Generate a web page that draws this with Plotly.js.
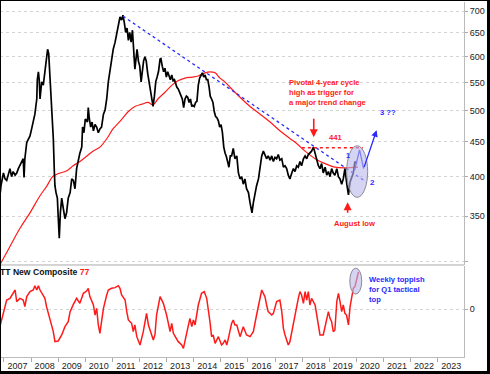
<!DOCTYPE html>
<html>
<head>
<meta charset="utf-8">
<script src="https://cdn.plot.ly/plotly-3.0.1.min.js"></script>
<style>
html,body{margin:0;padding:0;background:#fff;}
#wrap{position:relative;width:490px;height:374px;overflow:hidden;}
#chart{position:absolute;left:0;top:0;width:490px;height:374px;}
#frame{position:absolute;left:0;top:0;width:490px;height:374px;box-sizing:border-box;border-top:1px solid #000;border-left:1px solid #000;border-right:3px solid #000;border-bottom:3px solid #000;pointer-events:none;}
</style>
</head>
<body>
<div id="wrap"><div id="chart"></div><div id="frame"></div></div>
<script>
// ---- weekly price ----
const priceYears = [2006.86,2006.89,2006.98,
2007.04,2007.10,2007.16,2007.22,2007.28,2007.34,2007.41,2007.47,2007.53,2007.59,2007.65,2007.71,2007.74,2007.77,2007.84,2007.90,2007.96,
2008.02,2008.08,2008.14,2008.21,2008.23,2008.27,2008.30,2008.33,2008.39,2008.45,2008.51,2008.57,2008.61,2008.65,2008.70,2008.73,2008.78,2008.82,2008.86,2008.88,2008.92,2008.97,
2009.00,2009.04,2009.08,2009.13,2009.19,2009.25,2009.31,2009.37,2009.44,2009.50,2009.56,2009.62,2009.68,2009.74,2009.80,2009.87,2009.90,2009.95,
2010.00,2010.08,2010.11,2010.15,2010.20,2010.25,2010.30,2010.36,2010.42,2010.48,2010.54,2010.60,2010.67,2010.73,2010.79,2010.85,2010.91,2010.97,
2011.03,2011.10,2011.16,2011.22,2011.28,2011.34,2011.39,2011.44,2011.49,2011.54,2011.59,2011.64,2011.69,2011.74,2011.79,2011.83,2011.87,2011.91,2011.96,
2012.01,2012.06,2012.10,2012.15,2012.20,2012.25,2012.30,2012.35,2012.40,2012.45,2012.50,2012.55,2012.60,2012.65,2012.70,2012.76,2012.79,2012.84,2012.89,2012.94,2012.99,
2013.04,2013.09,2013.14,2013.19,2013.24,2013.29,2013.33,2013.38,2013.43,2013.48,2013.53,2013.58,2013.63,2013.68,2013.73,2013.78,2013.83,2013.88,2013.93,2013.97,
2014.02,2014.07,2014.12,2014.17,2014.22,2014.27,2014.32,2014.37,2014.42,2014.47,2014.52,2014.57,2014.61,2014.66,2014.71,2014.76,2014.81,2014.86,2014.91,2014.96,
2015.01,2015.06,2015.11,2015.16,2015.20,2015.25,2015.30,2015.35,2015.40,2015.46,2015.52,2015.59,2015.65,2015.71,2015.77,2015.83,2015.89,2015.95,
2016.02,2016.08,2016.11,2016.15,2016.20,2016.26,2016.32,2016.39,2016.45,2016.51,2016.57,2016.63,2016.69,2016.75,2016.82,2016.88,2016.94,
2017.00,2017.06,2017.12,2017.18,2017.25,2017.31,2017.37,2017.43,2017.49,2017.55,2017.62,2017.68,2017.74,2017.80,2017.86,2017.92,2017.98,
2018.05,2018.11,2018.17,2018.23,2018.29,2018.35,2018.42,2018.48,2018.54,2018.60,2018.66,2018.72,2018.78,2018.85,2018.91,2018.97,
2019.03,2019.09,2019.15,2019.21,2019.28,2019.34,2019.40,2019.46,2019.52,2019.58,2019.65,2019.71,2019.77,2019.83,2019.89,2019.95,
2020.02];
const priceValues = [378,388,405,
397,395,402,411,400,407,402,405,411,415,421,425,399,425,449,455,459,
470,481,494,520,555,570,555,520,551,545,568,596,615,606,560,520,481,455,405,388,379,372,
350,325,354,372,359,347,354,372,379,397,395,384,411,425,433,442,473,464,
486,481,505,486,473,481,467,477,473,464,470,473,494,501,520,551,573,596,
615,630,651,669,686,679,690,673,651,661,634,651,630,656,620,575,595,615,591,
581,551,575,591,600,591,568,551,532,514,507,525,551,560,570,595,596,581,570,577,560,
570,564,555,564,553,555,546,541,538,532,529,520,505,520,525,523,514,520,507,509,
507,514,516,545,558,564,568,560,564,555,555,541,525,520,514,498,490,488,483,473,
477,464,442,433,429,421,413,429,429,440,425,429,405,397,400,390,397,384,
379,366,362,354,366,379,388,397,411,429,436,429,425,429,423,429,421,
427,425,431,423,425,413,415,411,402,397,405,411,407,415,413,421,415,
425,429,425,431,433,436,442,433,421,415,411,418,405,413,402,407,
400,411,405,402,411,400,397,390,397,411,390,376,393,400,405,421,
418];

// ---- long moving average ----
const maYears = [2006.85,2007.22,2007.59,2007.96,2008.33,2008.59,2008.77,2008.88,2009.07,2009.32,2009.55,2009.80,2010.06,2010.28,2010.54,2010.80,2011.02,2011.28,2011.58,2011.83,2012.09,2012.31,2012.50,2012.68,2012.94,2013.20,2013.42,2013.68,2013.94,2014.16,2014.42,2014.60,2014.79,2014.97,2015.15,2015.34,2015.71,2016.08,2016.45,2016.82,2017.18,2017.55,2017.81,2018.11,2018.48,2018.85,2019.21,2019.58,2020.06];
const maValues = [297,316,336,354,375,388,399,402,405,408,415,421,429,436,442,455,470,482,498,507,511,514,510,520,532,545,553,558,560,562,568,570,568,558,551,541,523,507,494,481,467,455,447,436,425,418,413,412,413];

// ---- TT New Composite indicator ----
const indYears = [2006.85,2006.98,2007.10,2007.22,2007.34,2007.41,2007.47,2007.59,2007.71,2007.77,2007.84,2007.96,2008.08,2008.14,2008.21,2008.27,2008.33,2008.45,2008.51,2008.57,2008.70,2008.82,2008.88,2009.00,2009.13,2009.25,2009.37,2009.44,2009.56,2009.68,2009.80,2009.93,2010.05,2010.11,2010.17,2010.30,2010.36,2010.42,2010.48,2010.54,2010.60,2010.67,2010.79,2010.85,2010.97,2011.10,2011.22,2011.28,2011.34,2011.47,2011.53,2011.59,2011.65,2011.71,2011.77,2011.83,2011.90,2012.02,2012.14,2012.26,2012.33,2012.45,2012.51,2012.57,2012.63,2012.76,2012.88,2013.00,2013.13,2013.19,2013.25,
2013.43,2013.56,2013.62,2013.68,2013.80,2013.86,2013.93,2013.99,2014.05,2014.17,2014.29,2014.39,2014.48,2014.54,2014.60,2014.66,2014.72,2014.79,2014.91,2015.03,2015.09,2015.16,2015.22,2015.28,2015.40,2015.46,2015.52,2015.59,2015.71,2015.83,2015.95,2016.08,2016.20,2016.32,2016.45,2016.51,2016.57,2016.63,2016.69,2016.75,2016.88,2016.94,2017.06,2017.18,2017.25,2017.31,2017.37,2017.49,2017.55,2017.62,2017.68,2017.80,2017.86,2017.92,2017.98,2018.05,2018.11,2018.17,2018.23,2018.29,2018.35,2018.48,2018.60,2018.66,2018.78,2018.84,2018.91,2018.97,2019.03,2019.09,2019.15,2019.21,2019.28,2019.34,2019.40,2019.46,2019.52,2019.58,2019.64,2019.71,2019.77,2019.83,2019.89,2019.95,2020.01,2020.08];
const indValues = [-36.7,-5.5,18.7,22.2,32.6,39.5,15.3,22.2,18.7,4.9,25.7,36.1,39.5,48.5,39.5,48.5,39.5,25.7,22.2,4.9,-19.4,-47.1,-67.9,-66.5,-54.0,-36.7,-26.3,-5.5,9.7,22.2,11.8,32.6,37.4,43.0,25.7,8.3,-12.5,1.4,-33.2,-50.6,-26.3,1.4,29.1,39.5,43.0,44.4,48.5,43.0,29.1,18.7,-5.5,-22.8,-26.3,-29.8,-47.1,-33.2,-57.5,-74.8,-47.1,-9.0,-33.2,-57.5,-64.4,-54.0,-12.5,25.7,11.8,-12.5,-47.1,-29.8,-50.6,
-67.9,-74.8,-81.8,-64.4,-36.7,-19.4,-36.7,-22.8,-33.2,8.3,32.6,36.1,22.2,1.4,-26.3,-57.5,-54.0,-71.4,-57.5,-74.8,-71.4,-64.4,-74.8,-61.0,-29.8,-22.8,-33.2,-33.2,-57.5,-36.7,-54.0,-57.5,-47.1,-12.5,22.2,39.5,32.6,25.7,8.3,-5.5,-12.5,-9.0,15.3,18.7,-5.5,-40.2,-54.0,-74.8,-67.9,-47.1,-26.3,4.9,22.2,36.1,29.1,11.8,36.1,18.7,36.1,8.3,22.2,8.3,-40.2,-54.0,-54.0,-40.2,-19.4,-5.5,-19.4,-26.3,-47.1,-43.6,15.3,32.6,15.3,-5.5,8.3,-9.0,-12.5,-33.2,4.9,25.7,43.0,46.5,63.8,77];

// ---- drawn studies ----
const trendYears = [2011.39, 2020.36];
const trendValues = [688, 393];
const levelYears = [2017.99, 2020.24];
const levelValues = [441, 441];
const waveYears = [2019.94, 2020.12, 2020.27, 2020.75];
const waveValues = [409, 438, 411, 468];

// ---- axis labels ----
const yearLabels = ['2007','2008','2009','2010','2011','2012','2013','2014','2015','2016','2017','2018','2019','2020','2021','2022','2023'];
const yearTickPos = yearLabels.map(s => Number(s) + 0.5);
const yearBounds = yearLabels.map(s => Number(s)).concat([2024]);
const priceTicks = [300,350,400,450,500,550,600,650,700];
const priceTickText = ['','350','400','450','500','550','600','650','700'];

const L = Math.log10;
const RED = '#ff1a1a', BLUE = '#2a2aff';
const NOTE = '"Liberation Sans Narrow","Arial Narrow","Liberation Sans",Arial,sans-serif';

const traces = [
  {x: maYears, y: maValues, type:'scatter', mode:'lines', line:{color:RED, width:1.2, shape:'spline'}, xaxis:'x', yaxis:'y', hoverinfo:'skip'},
  {x: priceYears, y: priceValues, type:'scatter', mode:'lines', line:{color:'#000', width:1.7}, xaxis:'x', yaxis:'y', hoverinfo:'skip'},
  {x: trendYears, y: trendValues, type:'scatter', mode:'lines', line:{color:BLUE, width:1.3, dash:'dot'}, xaxis:'x', yaxis:'y', hoverinfo:'skip'},
  {x: levelYears, y: levelValues, type:'scatter', mode:'lines', line:{color:RED, width:1.3, dash:'dot'}, xaxis:'x', yaxis:'y', hoverinfo:'skip'},
  {x: waveYears.slice(0,3), y: waveValues.slice(0,3), type:'scatter', mode:'lines', line:{color:BLUE, width:1.3}, xaxis:'x', yaxis:'y', hoverinfo:'skip'},
  {x: indYears, y: indValues, type:'scatter', mode:'lines', line:{color:RED, width:1.5}, xaxis:'x', yaxis:'y2', hoverinfo:'skip'}
];

const layout = {
  width: 490, height: 374,
  margin: {l:0, r:26, t:2, b:17},
  paper_bgcolor:'#fff', plot_bgcolor:'#fff',
  showlegend:false,
  font:{family:'"Liberation Sans",Arial,sans-serif', size:9, color:'#222'},
  xaxis: {
    anchor:'y2', range:[2006.853, 2023.974], showgrid:false, zeroline:false,
    showline:true, linecolor:'#bbb', linewidth:1,
    tickmode:'array', tickvals: yearTickPos, ticktext: yearLabels, ticks:'',
    tickfont:{size:9, color:'#222'},
    minor:{tickmode:'array', tickvals: yearBounds, ticks:'outside', ticklen:4, tickcolor:'#aaa', tickwidth:1, showgrid:false}
  },
  yaxis: {
    domain:[0.2592, 1], type:'log', range:[L(296.8), L(721.6)], side:'right', anchor:'x',
    showline:true, linecolor:'#bbb', linewidth:1, ticks:'outside', ticklen:3, tickcolor:'#aaa',
    tickmode:'array', tickvals: priceTicks, ticktext: priceTickText,
    showgrid:true, gridcolor:'#d4d4d4', griddash:'dot', gridwidth:1, zeroline:false,
    tickfont:{size:9, color:'#222'}
  },
  yaxis2: {
    domain:[0, 0.2563], range:[-99.8, 89.4], side:'right', anchor:'x',
    showline:true, linecolor:'#bbb', linewidth:1, ticks:'outside', ticklen:3, tickcolor:'#aaa',
    tickmode:'array', tickvals:[0], ticktext:['0'],
    showgrid:true, gridcolor:'#d4d4d4', griddash:'dot', gridwidth:1, zeroline:false,
    tickfont:{size:9, color:'#222'}
  },
  shapes: [
    {type:'line', xref:'paper', yref:'paper', x0:0, x1:1, y0:0.2592, y1:0.2592, line:{color:'#aaa', width:1}},
    {type:'circle', xref:'x', yref:'y', x0:2019.645, x1:2020.42, y0:373, y1:444, fillcolor:'rgba(185,185,235,0.6)', line:{color:'#8a8a9a', width:1}, layer:'above'},
    {type:'circle', xref:'x', yref:'y2', x0:2019.76, x1:2020.20, y0:31, y1:85, fillcolor:'rgba(185,185,235,0.6)', line:{color:'#8a8a9a', width:1}, layer:'above'}
  ],
  annotations: [
    {xref:'x', yref:'y', x:2017.43, y:L(532), xanchor:'left', yanchor:'middle', align:'left', showarrow:false,
     text:'Pivotal 4-year cycle<br>high as trigger for<br>a major trend change', font:{family:NOTE, size:7.6, color:RED, weight:'bold'}},
    {xref:'x', yref:'y', x:2018.43, y:L(457), ax:0, ay:-20, showarrow:true, arrowhead:2, arrowsize:1, arrowwidth:1.6, arrowcolor:RED, text:''},
    {xref:'x', yref:'y', x:2019.24, y:L(457), showarrow:false, text:'441', font:{family:NOTE, size:7.6, color:RED, weight:'bold'}},
    {xref:'x', yref:'y', x:2019.68, y:L(430), showarrow:false, text:'1', font:{family:NOTE, size:7, color:BLUE, weight:'bold'}},
    {xref:'x', yref:'y', x:2020.60, y:L(391.7), showarrow:false, text:'2', font:{family:NOTE, size:8, color:BLUE, weight:'bold'}},
    {xref:'x', yref:'y', x:2021.16, y:L(496), showarrow:false, text:'3 ??', font:{family:NOTE, size:7.6, color:BLUE, weight:'bold'}},
    {xref:'x', yref:'y', x:waveYears[3], y:L(waveValues[3]), axref:'x', ayref:'y', ax:waveYears[2], ay:L(waveValues[2]),
     showarrow:true, arrowhead:2, arrowsize:1, arrowwidth:1.3, arrowcolor:BLUE, text:''},
    {xref:'x', yref:'y', x:2019.94, y:L(341), showarrow:false, text:'August low', font:{family:NOTE, size:7.6, color:RED, weight:'bold'}},
    {xref:'x', yref:'y', x:2019.68, y:L(367), ax:0, ay:12, showarrow:true, arrowhead:2, arrowsize:1, arrowwidth:1.6, arrowcolor:RED, text:''},
    {xref:'x', yref:'y2', x:2020.38, y:41.6, xanchor:'left', yanchor:'middle', align:'left', showarrow:false,
     text:'Weekly toppish<br>for Q1 tactical<br>top', font:{family:NOTE, size:7.6, color:BLUE, weight:'bold'}},
    {xref:'paper', yref:'y2', x:0, xshift:-2, y:77, xanchor:'left', yanchor:'middle', showarrow:false,
     text:'TT New Composite <span style="color:#ff1a1a">77</span>', font:{family:'"Liberation Sans",Arial,sans-serif', size:8.6, color:'#111', weight:'bold'}}
  ]
};

Plotly.newPlot('chart', traces, layout, {staticPlot:true, displayModeBar:false});
</script>
</body>
</html>
